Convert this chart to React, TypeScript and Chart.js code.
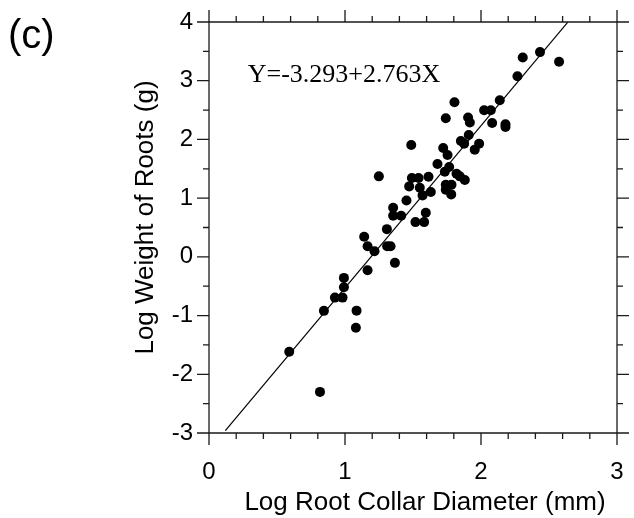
import React, { useEffect, useRef } from "react";
import { Chart, registerables } from "chart.js";

Chart.register(...registerables);

// Log root collar diameter (mm) for each sampled tree
const rootCollarDiameterLog = [
  0.59, 0.816, 0.845, 0.926, 0.982, 0.992, 0.992, 1.085, 1.08, 1.141,
  1.166, 1.166, 1.217, 1.249, 1.308, 1.31, 1.335, 1.367, 1.354, 1.354,
  1.413, 1.452, 1.472, 1.487, 1.492, 1.541, 1.518, 1.55, 1.57, 1.582,
  1.594, 1.614, 1.631, 1.68, 1.722, 1.741, 1.754, 1.734, 1.741, 1.741,
  1.766, 1.783, 1.781, 1.805, 1.82, 1.844, 1.881, 1.852, 1.876, 1.905,
  1.918, 1.91, 1.954, 1.986, 2.023, 2.072, 2.082, 2.138, 2.18, 2.18,
  2.268, 2.307, 2.434, 2.574,
];

// Log weight of roots (g) for each sampled tree
const rootWeightLog = [
  -1.615, -2.3, -0.92, -0.694, -0.694, -0.518, -0.358, -0.916, -1.206, 0.341,
  0.182, -0.228, 0.097, 1.371, 0.472, 0.182, 0.182, -0.102, 0.836, 0.7,
  0.7, 0.961, 1.2, 1.906, 1.342, 1.342, 0.592, 1.178, 1.047, 0.592,
  0.751, 1.365, 1.104, 1.581, 1.854, 2.36, 1.735, 1.45, 1.229, 1.143,
  1.53, 1.229, 1.064, 2.634, 1.416, 1.371, 1.308, 1.974, 1.928, 2.372,
  2.287, 2.076, 1.826, 1.928, 2.497, 2.497, 2.281, 2.668, 2.258, 2.213,
  3.077, 3.396, 3.487, 3.322,
];

// Fitted regression: Y = a + bX, drawn over this X span
const fitIntercept = -3.293;
const fitSlope = 2.763;
const fitXStart = 0.12;
const fitXEnd = 2.64;

const xTickLabels = ["0", "1", "2", "3"];
const yTickLabels = ["-3", "-2", "-1", "0", "1", "2", "3", "4"];

const equationText = "Y=-3.293+2.763X";
const panelLabel = "(c)";
const xAxisTitle = "Log Root Collar Diameter (mm)";
const yAxisTitle = "Log Weight of Roots (g)";

const SANS = "'Liberation Sans', Arial, sans-serif";
const SERIF = "'Liberation Serif', 'Times New Roman', serif";

const framePlugin = {
  id: "frameAndTicks",
  afterDraw(chart: any) {
    const { ctx, chartArea } = chart;
    const xs = chart.scales.x;
    const ys = chart.scales.y;
    const { left, right, top, bottom } = chartArea;
    ctx.save();
    ctx.strokeStyle = "#1a1a1a";
    ctx.lineWidth = 1.3;
    ctx.beginPath();
    ctx.rect(left, top, right - left, bottom - top);
    ctx.stroke();

    const major = 12;
    const minor = 6;
    ctx.beginPath();
    // x ticks every 0.2, major at integers
    for (let i = 0; i <= 15; i++) {
      const v = i * 0.2;
      const len = i % 5 === 0 ? major : minor;
      const px = xs.getPixelForValue(v);
      ctx.moveTo(px, bottom);
      ctx.lineTo(px, bottom + len);
      ctx.moveTo(px, top);
      ctx.lineTo(px, top - len);
    }
    // y ticks every 0.5, major at integers
    for (let i = 0; i <= 14; i++) {
      const v = -3 + i * 0.5;
      const len = i % 2 === 0 ? major : minor;
      const py = ys.getPixelForValue(v);
      ctx.moveTo(left, py);
      ctx.lineTo(left - len, py);
      ctx.moveTo(right, py);
      ctx.lineTo(right + len, py);
    }
    ctx.stroke();

    ctx.fillStyle = "#000";

    // regression equation
    ctx.font = `26px ${SERIF}`;
    ctx.textBaseline = "middle";
    ctx.textAlign = "left";
    ctx.fillText(equationText, xs.getPixelForValue(0.285), ys.getPixelForValue(3.1));

    // axis titles
    ctx.font = `26px ${SANS}`;
    ctx.textAlign = "center";
    ctx.textBaseline = "middle";
    ctx.fillText(xAxisTitle, (left + right) / 2 + 12, 503);
    ctx.save();
    ctx.translate(146, (top + bottom) / 2 - 10);
    ctx.rotate(-Math.PI / 2);
    ctx.fillText(yAxisTitle, 0, 0);
    ctx.restore();

    // panel label
    ctx.font = `40px ${SANS}`;
    ctx.textAlign = "left";
    ctx.textBaseline = "alphabetic";
    ctx.fillText(panelLabel, 8, 48);
    ctx.restore();
  },
};

export default function App() {
  const canvasRef = useRef<HTMLCanvasElement | null>(null);

  useEffect(() => {
    const canvas = canvasRef.current;
    if (!canvas) return;

    const points = rootCollarDiameterLog.map((x, i) => ({ x, y: rootWeightLog[i] }));
    const fitLine = [fitXStart, fitXEnd].map((x) => ({ x, y: fitIntercept + fitSlope * x }));

    const chart = new Chart(canvas, {
      type: "scatter",
      data: {
        datasets: [
          {
            label: "fit",
            data: fitLine,
            showLine: true,
            borderColor: "#000",
            borderWidth: 1.2,
            pointRadius: 0,
            order: 2,
          },
          {
            label: "trees",
            data: points,
            backgroundColor: "#000",
            borderWidth: 0,
            pointRadius: 5,
            order: 1,
          },
        ],
      },
      options: {
        animation: false,
        responsive: true,
        maintainAspectRatio: false,
        layout: { padding: { top: 22, right: 17, left: 0, bottom: 0 } },
        plugins: { legend: { display: false }, tooltip: { enabled: false } },
        scales: {
          x: {
            type: "linear",
            min: 0,
            max: 3,
            grid: { display: false, drawTicks: false },
            border: { display: false },
            ticks: {
              stepSize: 1,
              color: "#000",
              padding: 25,
              maxRotation: 0,
              font: { family: SANS, size: 24 },
              callback: (v: any) => xTickLabels[Number(v)] ?? "",
            },
            title: { display: false },
            afterFit: (s: any) => {
              s.height = 85;
              s.paddingLeft = 0;
              s.paddingRight = 0;
            },
          },
          y: {
            type: "linear",
            min: -3,
            max: 4,
            grid: { display: false, drawTicks: false },
            border: { display: false },
            ticks: {
              stepSize: 1,
              color: "#000",
              padding: 16,
              font: { family: SANS, size: 24 },
              callback: (v: any) => yTickLabels[Number(v) + 3] ?? "",
            },
            title: { display: false },
            afterFit: (s: any) => {
              s.width = 209;
              s.paddingTop = 0;
              s.paddingBottom = 0;
            },
          },
        },
      },
      plugins: [framePlugin],
    });

    return () => chart.destroy();
  }, []);

  return (
    <div
      style={{
        position: "fixed",
        left: 0,
        top: 0,
        width: 634,
        height: 518,
        background: "#fff",
      }}
    >
      <canvas ref={canvasRef} />
    </div>
  );
}
